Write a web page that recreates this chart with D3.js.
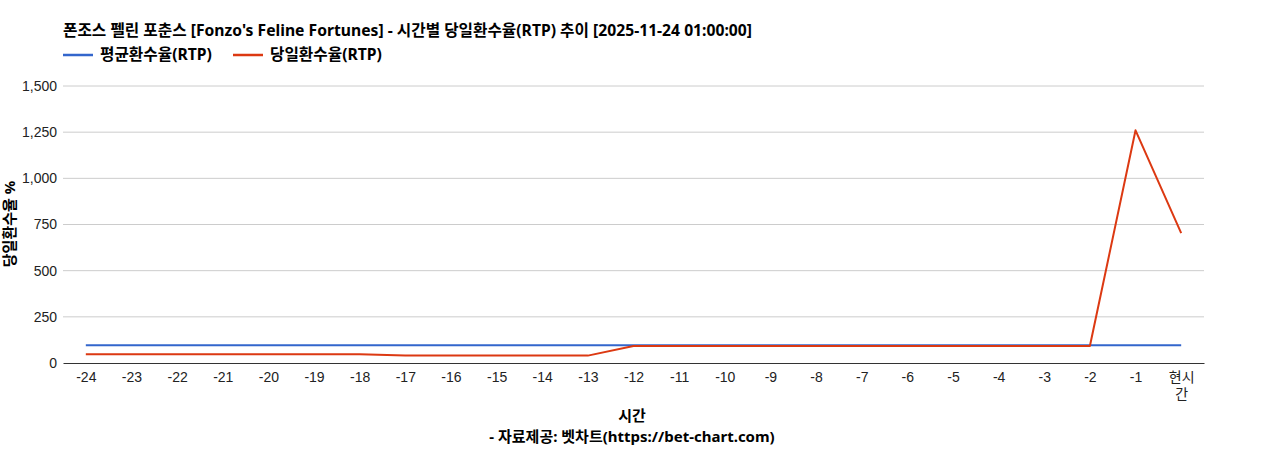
<!DOCTYPE html>
<html>
<head>
<meta charset="utf-8">
<script src="https://cdn.jsdelivr.net/npm/d3@7"></script>
<style>
  body { margin: 0; background: #fff; }
  svg { font-family: Arial, "Liberation Sans", "Noto Sans CJK KR", sans-serif; }
  .label { font-family: "Noto Sans", "Noto Sans CJK KR", sans-serif; font-weight: bold; font-size: 14px; }
</style>
</head>
<body>
<svg width="1268" height="450"></svg>
<script>
const hours = ["-24","-23","-22","-21","-20","-19","-18","-17","-16","-15","-14","-13",
               "-12","-11","-10","-9","-8","-7","-6","-5","-4","-3","-2","-1","현시간"];
const avgRtp = [96,96,96,96,96,96,96,96,96,96,96,96,
                96,96,96,96,96,96,96,96,96,96,96,96,96];
const dailyRtp = [47,47,47,47,47,47,47,40,40,40,40,40,
                  92,92,92,92,92,92,92,92,92,92,92,1260,703];
const yTicks = [0,250,500,750,1000,1250,1500];

const seriesNames = ["평균환수율(RTP)", "당일환수율(RTP)"];
const seriesColors = ["#3366cc", "#dc3912"];
const seriesValues = [avgRtp, dailyRtp];

const margin = { top: 86, right: 64, bottom: 87, left: 63 };
const width = 1268 - margin.left - margin.right;
const height = 450 - margin.top - margin.bottom;

const svg = d3.select("svg");

const x = d3.scalePoint().domain(hours).range([0, width]).padding(0.5);
const y = d3.scaleLinear().domain([0, 1500]).range([height, 0]);

// title
svg.append("text")
    .attr("class", "label")
    .attr("x", 63).attr("y", 36)
    .style("font-size", "15.7px")
    .text("폰조스 펠린 포춘스 [Fonzo's Feline Fortunes] - 시간별 당일환수율(RTP) 추이 [2025-11-24 01:00:00]");

// legend
const legendX = [63, 233];
seriesNames.forEach((name, i) => {
    const lg = svg.append("g").attr("transform", `translate(${legendX[i]}, 55)`);
    lg.append("line").attr("x1", 0).attr("x2", 30).attr("y1", 0).attr("y2", 0)
        .attr("stroke", seriesColors[i]).attr("stroke-width", 2.5);
    lg.append("text").attr("class", "label").attr("x", 37).attr("y", 5)
        .style("font-size", "15.7px")
        .text(name);
});

const g = svg.append("g").attr("transform", `translate(${margin.left}, ${margin.top})`);

// gridlines
g.append("g")
    .selectAll("line")
    .data(yTicks.filter(d => d > 0))
    .enter().append("line")
    .attr("x1", 0).attr("x2", width)
    .attr("y1", d => y(d)).attr("y2", d => y(d))
    .attr("stroke", "#cccccc");

// y axis labels
const yAxis = g.append("g")
    .call(d3.axisLeft(y).tickValues(yTicks).tickSize(0).tickPadding(6).tickFormat(d3.format(",")));
yAxis.select(".domain").remove();
yAxis.selectAll("text").attr("font-size", 14).attr("fill", "#222")
    .attr("font-family", "Arial, 'Liberation Sans', sans-serif");

// x axis
const xAxis = g.append("g")
    .attr("transform", `translate(0, ${height})`)
    .call(d3.axisBottom(x).tickSize(0).tickPadding(9));
xAxis.select(".domain").attr("stroke", "#333");
xAxis.selectAll("text").attr("font-size", 14).attr("fill", "#222")
    .attr("font-family", "Arial, 'Liberation Sans', 'Noto Sans CJK KR', sans-serif")
    .each(function(d) {
        if (d === "현시간") {
            const t = d3.select(this);
            t.text(null);
            t.append("tspan").attr("x", 0).attr("dy", "0.71em").text("현시");
            t.append("tspan").attr("x", 0).attr("dy", "1.2em").text("간");
            t.attr("dy", null);
        }
    });

// lines
const line = d3.line()
    .x((d, i) => x(hours[i]))
    .y(d => y(d));

seriesValues.forEach((vals, i) => {
    g.append("path")
        .datum(vals)
        .attr("fill", "none")
        .attr("stroke", seriesColors[i])
        .attr("stroke-width", 2)
        .attr("stroke-linejoin", "round")
        .attr("d", line);
});

// axis titles
svg.append("text")
    .attr("class", "label")
    .attr("transform", "translate(15, 224) rotate(-90)")
    .attr("text-anchor", "middle")
    .style("font-size", "15px")
    .text("당일환수율 %");

svg.append("text")
    .attr("class", "label")
    .attr("x", 632).attr("y", 421)
    .attr("text-anchor", "middle")
    .style("font-size", "15px")
    .text("시간");

svg.append("text")
    .attr("class", "label")
    .attr("x", 632).attr("y", 442)
    .attr("text-anchor", "middle")
    .style("font-size", "15px")
    .text("- 자료제공: 벳차트(https://bet-chart.com)");
</script>
</body>
</html>
